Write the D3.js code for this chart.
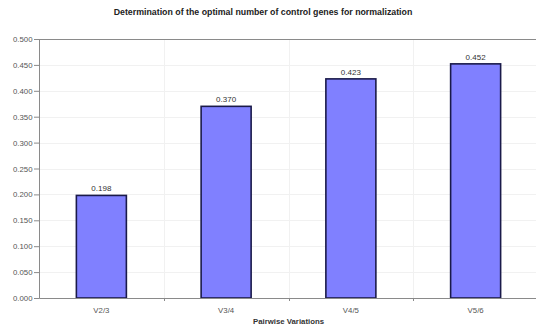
<!DOCTYPE html>
<html>
<head>
<meta charset="utf-8">
<script src="https://cdn.jsdelivr.net/npm/d3@7"></script>
<style>
  html, body { margin: 0; padding: 0; background: #fff; }
  svg { display: block; }
  text { font-family: "Liberation Sans", Arial, sans-serif; }
</style>
</head>
<body>
<svg id="chart" width="536" height="331"></svg>
<script>
// Pairwise variation values (geNorm V_n/n+1)
const categories = ["V2/3", "V3/4", "V4/5", "V5/6"];
const values = [0.198, 0.370, 0.423, 0.452];
const yTicks = [0, 0.05, 0.1, 0.15, 0.2, 0.25, 0.3, 0.35, 0.4, 0.45, 0.5];

const W = 536, H = 331;
const margin = { left: 39, right: -2, top: 39, bottom: 33 };
const plotW = W - margin.left - margin.right;
const plotH = H - margin.top - margin.bottom;

const svg = d3.select("#chart");
const g = svg.append("g").attr("transform", `translate(${margin.left},${margin.top})`);

const x = d3.scaleBand().domain(categories).range([0, plotW]).paddingInner(0).paddingOuter(0);
const y = d3.scaleLinear().domain([0, 0.5]).range([plotH, 0]);

// faint grid
g.append("g").selectAll("line.h").data(yTicks.slice(1, -1)).join("line")
  .attr("x1", 0).attr("x2", plotW)
  .attr("y1", d => Math.round(y(d)) + 0.5).attr("y2", d => Math.round(y(d)) + 0.5)
  .attr("stroke", "#f1f1f1").attr("stroke-width", 1);
g.append("g").selectAll("line.v").data(categories.slice(1)).join("line")
  .attr("x1", d => Math.round(x(d)) + 0.5).attr("x2", d => Math.round(x(d)) + 0.5)
  .attr("y1", 0).attr("y2", plotH)
  .attr("stroke", "#f1f1f1").attr("stroke-width", 1);

// top border of plot area
g.append("line").attr("x1", 0).attr("x2", plotW).attr("y1", 0.5).attr("y2", 0.5)
  .attr("stroke", "#8a8a8a").attr("stroke-width", 1);

// bars
const barW = 50;
g.selectAll("rect.bar").data(values).join("rect")
  .attr("class", "bar")
  .attr("x", (d, i) => x(categories[i]) + x.bandwidth() / 2 - barW / 2)
  .attr("y", d => y(d))
  .attr("width", barW)
  .attr("height", d => plotH - y(d))
  .attr("fill", "#8080ff")
  .attr("stroke", "#1a1a4a")
  .attr("stroke-width", 1.6);

// value labels
g.selectAll("text.val").data(values).join("text")
  .attr("x", (d, i) => x(categories[i]) + x.bandwidth() / 2)
  .attr("y", d => y(d) - 4)
  .attr("text-anchor", "middle")
  .attr("font-size", 8)
  .attr("fill", "#333")
  .text(d => d.toFixed(3));

// y axis
const yAxis = g.append("g").call(
  d3.axisLeft(y).tickValues(yTicks).tickFormat(d3.format(".3f")).tickSize(5).tickPadding(1.5)
);
yAxis.select(".domain").attr("stroke", "#8a8a8a");
yAxis.selectAll(".tick line").attr("stroke", "#8a8a8a");
yAxis.selectAll(".tick text").attr("font-size", 7.8).attr("fill", "#555")
  .attr("font-family", "Liberation Sans, Arial, sans-serif");

// x axis
const xAxis = g.append("g").attr("transform", `translate(0,${plotH})`).call(
  d3.axisBottom(x).tickSize(0).tickPadding(9)
);
xAxis.select(".domain").attr("stroke", "#8a8a8a");
xAxis.selectAll(".tick text").attr("font-size", 7.8).attr("fill", "#555")
  .attr("font-family", "Liberation Sans, Arial, sans-serif");
// small ticks between categories
g.append("g").selectAll("line").data(categories.slice(1)).join("line")
  .attr("x1", d => Math.round(x(d)) + 0.5).attr("x2", d => Math.round(x(d)) + 0.5)
  .attr("y1", plotH).attr("y2", plotH + 3)
  .attr("stroke", "#8a8a8a");

// title
svg.append("text")
  .attr("x", 263).attr("y", 15)
  .attr("text-anchor", "middle")
  .attr("font-size", 8.8).attr("font-weight", "bold").attr("fill", "#222")
  .text("Determination of the optimal number of control genes for normalization");

// x axis title
svg.append("text")
  .attr("x", margin.left + plotW / 2).attr("y", 324)
  .attr("text-anchor", "middle")
  .attr("font-size", 7.8).attr("font-weight", "bold").attr("fill", "#333")
  .text("Pairwise Variations");
</script>
</body>
</html>
